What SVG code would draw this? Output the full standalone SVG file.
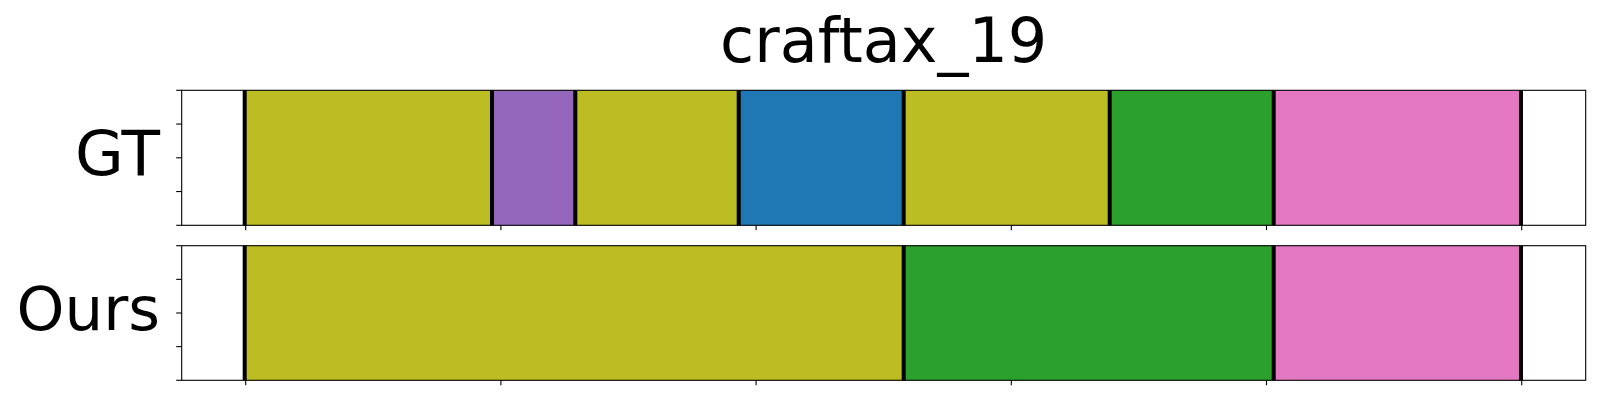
<svg xmlns="http://www.w3.org/2000/svg" width="1600" height="400" viewBox="0 0 1600 400">
<style>
  text { font-family: "DejaVu Sans", "Liberation Sans", sans-serif; fill: #000; }
  .title { font-size: 62px; text-anchor: middle; }
  .ylab { font-size: 61px; text-anchor: end; }
  .spine { fill: none; stroke: #000; stroke-width: 1.1; }
  .tick { stroke: #000; stroke-width: 1.1; }
  .bnd { fill: #000; }
  .olive { fill: #bcbd22; }
  .purple { fill: #9467bd; }
  .blue { fill: #1f77b4; }
  .green { fill: #2ca02c; }
  .pink { fill: #e377c2; }
</style>
<rect width="1600" height="400" fill="#ffffff"/>
<text class="title" x="883.7" y="62.3">craftax_19</text>

<g id="gt">
  <rect x="181.7" y="90.3" width="1404" height="135" fill="#ffffff"/>
  <rect class="olive" x="244.7" y="90.3" width="247.3" height="135"/>
  <rect class="purple" x="492" y="90.3" width="83.3" height="135"/>
  <rect class="olive" x="575.3" y="90.3" width="163.4" height="135"/>
  <rect class="blue" x="738.7" y="90.3" width="165" height="135"/>
  <rect class="olive" x="903.7" y="90.3" width="206" height="135"/>
  <rect class="green" x="1109.7" y="90.3" width="164" height="135"/>
  <rect class="pink" x="1273.7" y="90.3" width="247.3" height="135"/>
  <rect class="bnd" x="242.7" y="90.3" width="4" height="135"/>
  <rect class="bnd" x="490" y="90.3" width="4" height="135"/>
  <rect class="bnd" x="573.3" y="90.3" width="4" height="135"/>
  <rect class="bnd" x="736.7" y="90.3" width="4" height="135"/>
  <rect class="bnd" x="901.7" y="90.3" width="4" height="135"/>
  <rect class="bnd" x="1107.7" y="90.3" width="4" height="135"/>
  <rect class="bnd" x="1271.7" y="90.3" width="4" height="135"/>
  <rect class="bnd" x="1519" y="90.3" width="4" height="135"/>
  <rect class="spine" x="181.7" y="90.3" width="1404" height="135"/>
  <g class="tick">
    <line x1="176.2" y1="90.3" x2="181.7" y2="90.3"/>
    <line x1="176.2" y1="124.05" x2="181.7" y2="124.05"/>
    <line x1="176.2" y1="157.8" x2="181.7" y2="157.8"/>
    <line x1="176.2" y1="191.55" x2="181.7" y2="191.55"/>
    <line x1="176.2" y1="225.3" x2="181.7" y2="225.3"/>
    <line x1="245.7" y1="225.3" x2="245.7" y2="230.2"/>
    <line x1="500.9" y1="225.3" x2="500.9" y2="230.2"/>
    <line x1="756.1" y1="225.3" x2="756.1" y2="230.2"/>
    <line x1="1011.3" y1="225.3" x2="1011.3" y2="230.2"/>
    <line x1="1266.5" y1="225.3" x2="1266.5" y2="230.2"/>
    <line x1="1521.7" y1="225.3" x2="1521.7" y2="230.2"/>
  </g>
  <text class="ylab" x="160" y="175" style="font-size:63px">GT</text>
</g>

<g id="ours">
  <rect x="181.7" y="245.7" width="1404" height="134.6" fill="#ffffff"/>
  <rect class="olive" x="244.7" y="245.7" width="659" height="134.6"/>
  <rect class="green" x="903.7" y="245.7" width="370" height="134.6"/>
  <rect class="pink" x="1273.7" y="245.7" width="247.3" height="134.6"/>
  <rect class="bnd" x="242.7" y="245.7" width="4" height="134.6"/>
  <rect class="bnd" x="901.7" y="245.7" width="4" height="134.6"/>
  <rect class="bnd" x="1271.7" y="245.7" width="4" height="134.6"/>
  <rect class="bnd" x="1519" y="245.7" width="4" height="134.6"/>
  <rect class="spine" x="181.7" y="245.7" width="1404" height="134.6"/>
  <g class="tick">
    <line x1="176.2" y1="245.7" x2="181.7" y2="245.7"/>
    <line x1="176.2" y1="279.35" x2="181.7" y2="279.35"/>
    <line x1="176.2" y1="313" x2="181.7" y2="313"/>
    <line x1="176.2" y1="346.65" x2="181.7" y2="346.65"/>
    <line x1="176.2" y1="380.3" x2="181.7" y2="380.3"/>
    <line x1="245.7" y1="380.3" x2="245.7" y2="385.2"/>
    <line x1="500.9" y1="380.3" x2="500.9" y2="385.2"/>
    <line x1="756.1" y1="380.3" x2="756.1" y2="385.2"/>
    <line x1="1011.3" y1="380.3" x2="1011.3" y2="385.2"/>
    <line x1="1266.5" y1="380.3" x2="1266.5" y2="385.2"/>
    <line x1="1521.7" y1="380.3" x2="1521.7" y2="385.2"/>
  </g>
  <text class="ylab" x="160" y="330">Ours</text>
</g>
</svg>
